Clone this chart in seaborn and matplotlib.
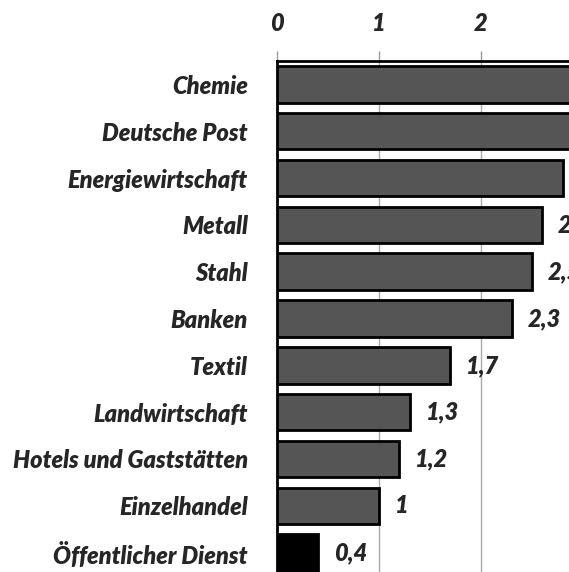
import matplotlib
matplotlib.use("Agg")
import matplotlib.pyplot as plt
import seaborn as sns
import pandas as pd
from matplotlib.ticker import FixedLocator

categories = ["Chemie", "Deutsche Post", "Energiewirtschaft", "Metall", "Stahl",
              "Banken", "Textil", "Landwirtschaft", "Hotels und Gaststätten",
              "Einzelhandel", "Öffentlicher Dienst"]
values = [3.4, 3.2, 2.8, 2.6, 2.5, 2.3, 1.7, 1.3, 1.2, 1.0, 0.4]
bar_colors = ["#555555"] * 10 + ["#000000"]
x_ticks = [0, 1, 2]

sns.set_style("white")
plt.rcParams['font.family'] = ['Lato', 'DejaVu Sans']

FS = 17
W = 'heavy'

fig = plt.figure(figsize=(5.69, 5.72), dpi=100)
ax = fig.add_axes([277/569, 0.0, 1 - 277/569, (572 - 61)/572])

df = pd.DataFrame({"cat": categories, "val": values})
sns.barplot(data=df, x="val", y="cat", hue="cat", palette=bar_colors, legend=False,
            orient="h", width=0.78, edgecolor="black", linewidth=2, ax=ax, zorder=3)

xmax = 292/102
ax.set_xlim(0, xmax)
ax.set_ylim(10.5 - 4/46.8, -0.5)
ax.xaxis.tick_top()
ax.set_xticks(x_ticks)
ax.set_xticklabels([str(t) for t in x_ticks])
ax.set_xlabel("")
ax.set_ylabel("")
ax.tick_params(axis='x', direction='out', length=7, width=1, color='#999999', pad=12,
               labelsize=FS)
for lab in ax.get_xticklabels():
    lab.set_fontweight(W); lab.set_fontstyle('italic')
ax.tick_params(axis='y', which='major', length=0, pad=21, labelsize=FS)
for lab in ax.get_yticklabels():
    lab.set_fontweight(W); lab.set_fontstyle('italic')
ax.yaxis.set_minor_locator(FixedLocator([i - 0.5 for i in range(len(categories) + 1)]))
ax.tick_params(axis='y', which='minor', direction='out', length=6, width=2, color='black')

ax.grid(axis='x', color='#aaaaaa', linewidth=1, zorder=0)
ax.set_axisbelow(True)
for s in ["right", "bottom"]:
    ax.spines[s].set_visible(False)
for s in ["top", "left"]:
    ax.spines[s].set_linewidth(2)
    ax.spines[s].set_color("black")

for i, v in enumerate(values):
    if v + 16/102 >= xmax:
        continue
    txt = ("%.1f" % v).replace(".", ",")
    if txt.endswith(",0"):
        txt = txt[:-2]
    ax.annotate(txt, xy=(v, i), xytext=(16, 0), textcoords='offset pixels',
                ha='left', va='center', fontsize=FS, fontweight=W, fontstyle='italic',
                annotation_clip=False, clip_on=True)

fig.savefig("out.png", dpi=100)
